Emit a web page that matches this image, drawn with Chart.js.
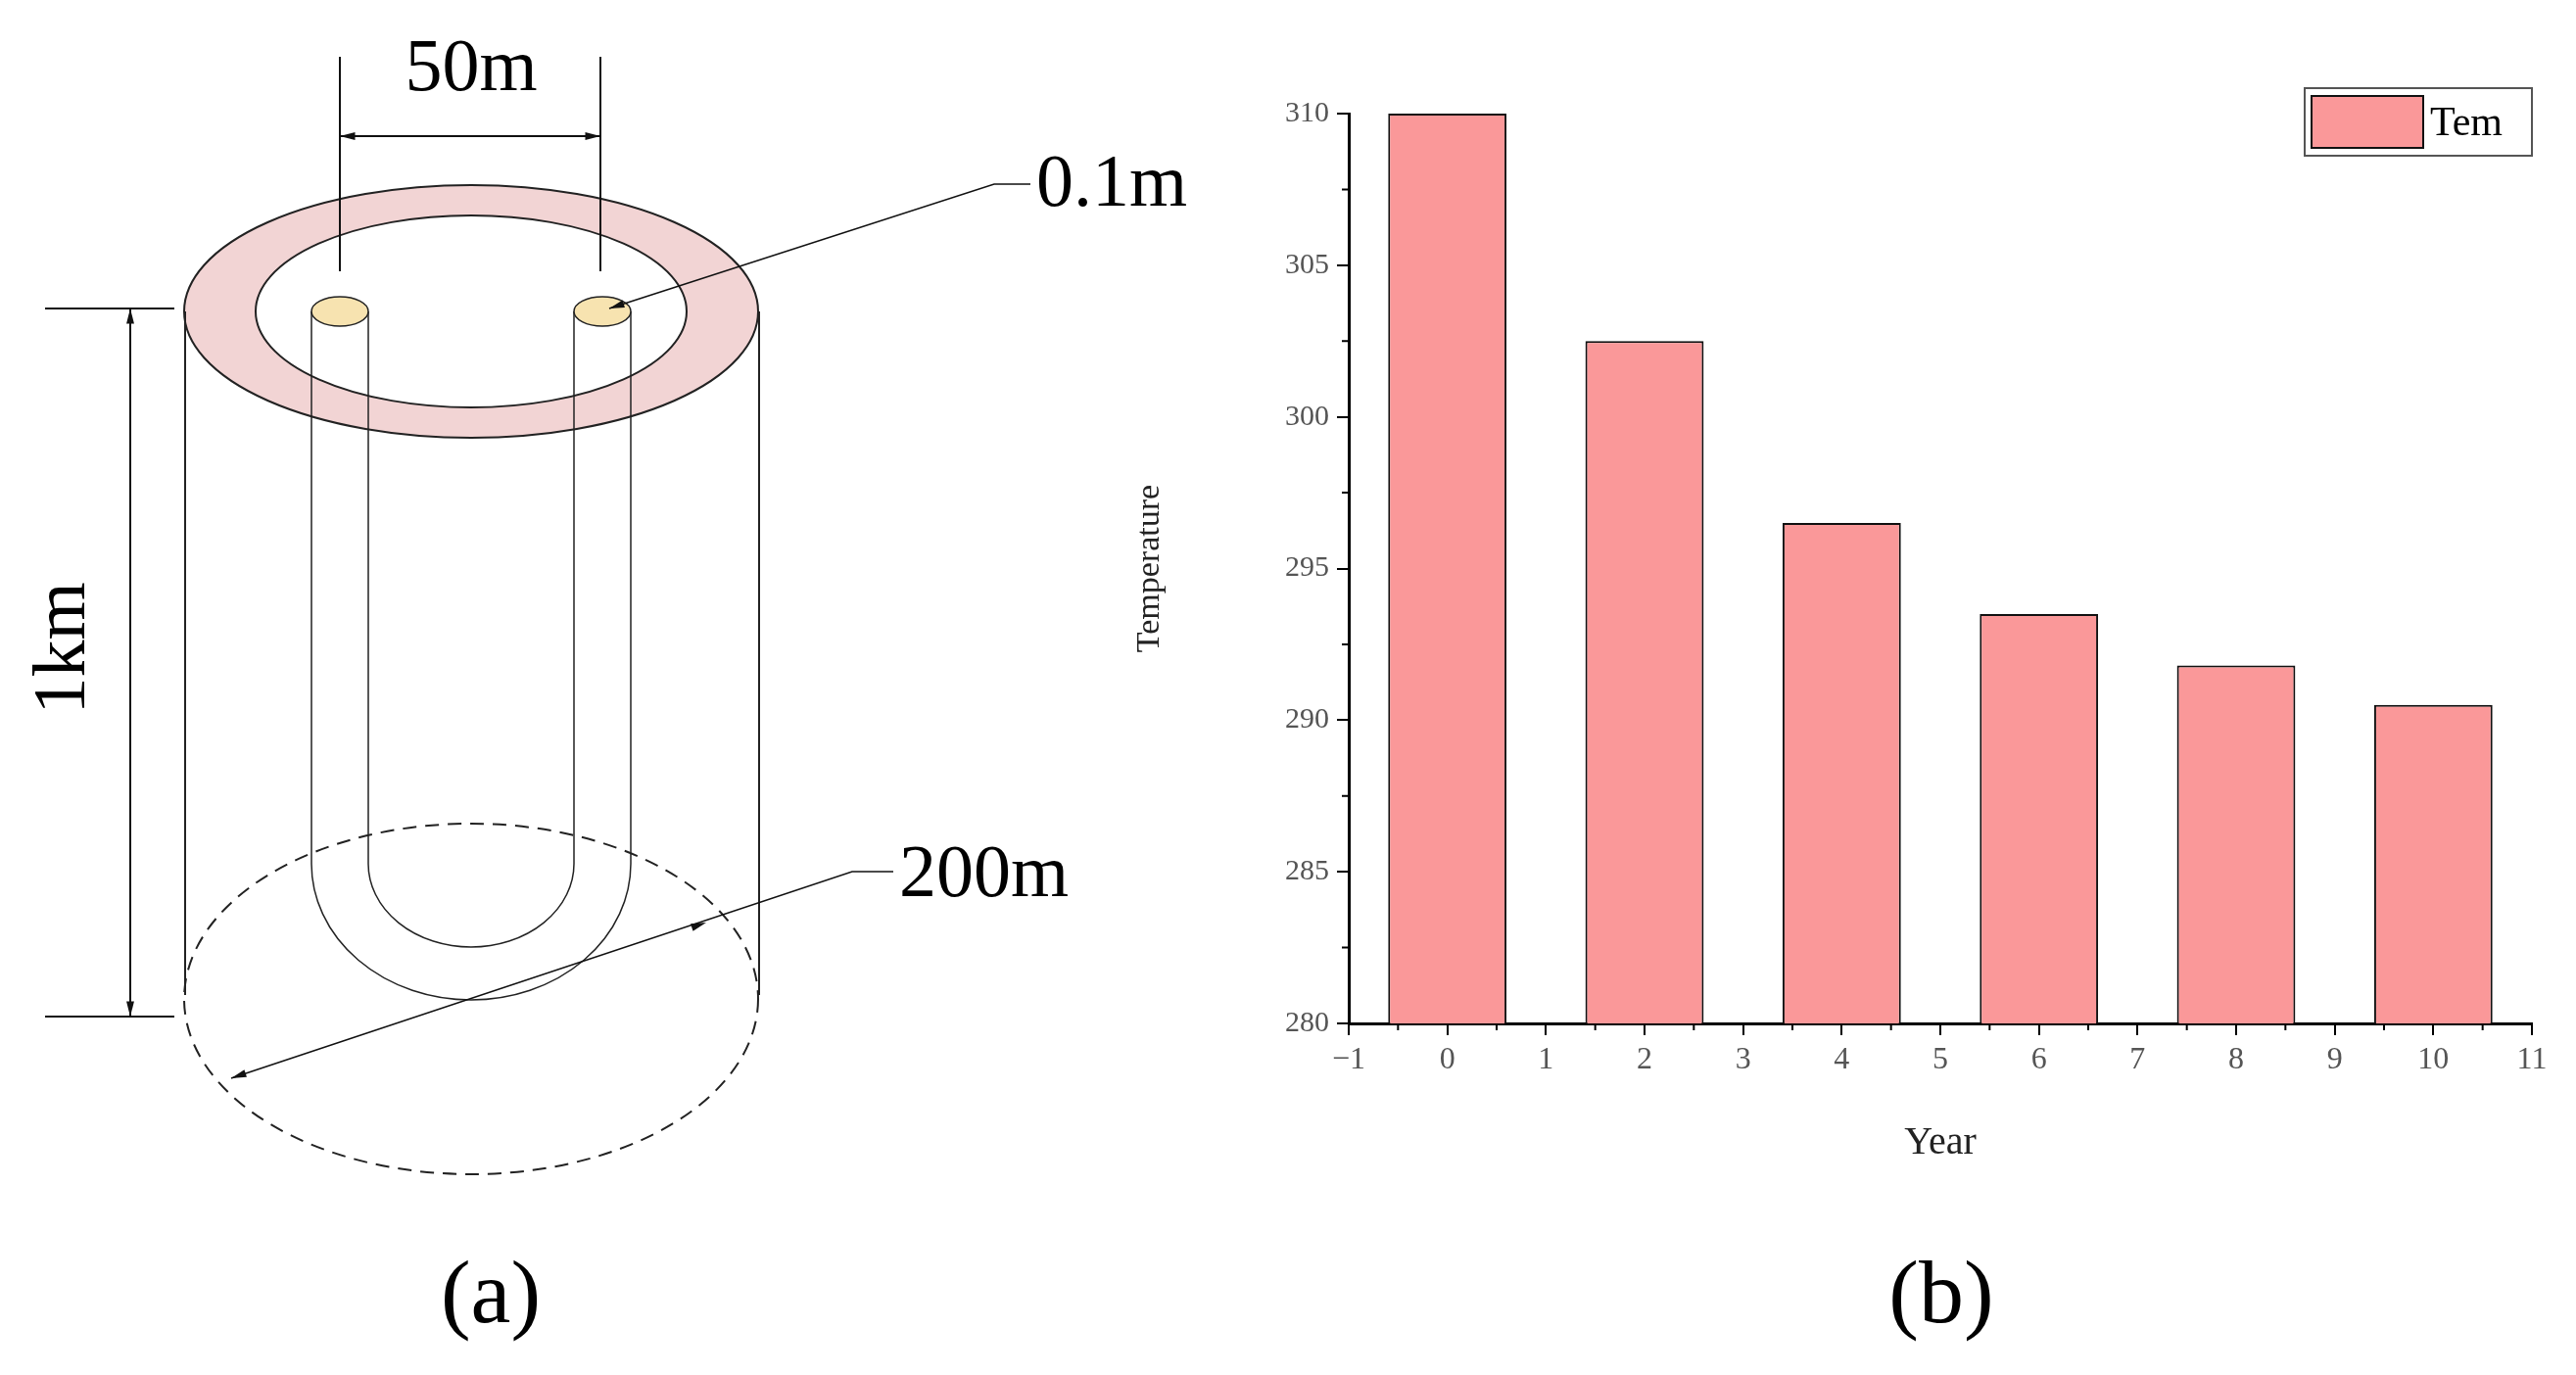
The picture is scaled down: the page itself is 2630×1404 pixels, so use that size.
<!DOCTYPE html>
<html>
<head>
<meta charset="utf-8">
<script src="https://cdn.jsdelivr.net/npm/chart.js@4/dist/chart.umd.min.js"></script>
<style>
  body { margin: 0; background: #fff; }
  #sketch { position: absolute; left: 0; top: 0; }
  #wrap { position: absolute; left: 1150px; top: 0; width: 1480px; height: 1404px; }
</style>
</head>
<body>
<canvas id="sketch" width="2630" height="1404"></canvas>
<div id="wrap"><canvas id="tempChart"></canvas></div>
<script>
// chart data
const years = [0, 2, 4, 6, 8, 10];
const temperatures = [310, 302.5, 296.5, 293.5, 291.8, 290.5];
const seriesName = 'Tem';

const serif = '"Liberation Serif", "DejaVu Serif", serif';

// Schematic (a) on a plain canvas
function drawSchematic() {
    const c = document.getElementById('sketch').getContext('2d');
    c.lineWidth = 2;
    c.strokeStyle = '#222';

    const cx = 481, topY = 318;
    // pink ring
    c.beginPath();
    c.ellipse(cx, topY, 293, 129, 0, 0, Math.PI * 2);
    c.moveTo(cx + 220, topY);
    c.ellipse(cx, topY, 220, 98, 0, 0, Math.PI * 2);
    c.fillStyle = '#f2d4d4';
    c.fill('evenodd');
    c.stroke();

    // cylinder sides
    c.beginPath();
    c.moveTo(189, topY); c.lineTo(189, 1016);
    c.moveTo(775, topY); c.lineTo(775, 1016);
    c.stroke();

    // bottom dashed ellipse
    c.setLineDash([14, 9]);
    c.beginPath();
    c.ellipse(cx, 1020, 293, 179, 0, 0, Math.PI * 2);
    c.stroke();
    c.setLineDash([]);

    // U pipe
    c.lineWidth = 1.5;
    c.beginPath();
    c.moveTo(318, topY); c.lineTo(318, 882);
    c.ellipse(cx, 882, 163, 139, 0, Math.PI, 0, true);
    c.lineTo(644, topY);
    c.moveTo(376, topY); c.lineTo(376, 882);
    c.ellipse(cx, 882, 105, 85, 0, Math.PI, 0, true);
    c.lineTo(586, topY);
    c.stroke();

    // pipe caps
    c.fillStyle = '#f7e3b0';
    [347, 615].forEach(x => {
        c.beginPath();
        c.ellipse(x, topY, 29, 15, 0, 0, Math.PI * 2);
        c.fill(); c.stroke();
    });

    function arrowHead(x, y, ang) {
        c.beginPath();
        c.moveTo(x, y);
        c.lineTo(x - 16 * Math.cos(ang - 0.25), y - 16 * Math.sin(ang - 0.25));
        c.lineTo(x - 16 * Math.cos(ang + 0.25), y - 16 * Math.sin(ang + 0.25));
        c.closePath();
        c.fillStyle = '#111';
        c.fill();
    }

    c.lineWidth = 2;
    c.strokeStyle = '#111';
    // 50m
    c.beginPath();
    c.moveTo(347, 58); c.lineTo(347, 277);
    c.moveTo(613, 58); c.lineTo(613, 277);
    c.moveTo(347, 139); c.lineTo(613, 139);
    c.stroke();
    arrowHead(347, 139, Math.PI);
    arrowHead(613, 139, 0);

    // 1km
    c.beginPath();
    c.moveTo(46, 315); c.lineTo(178, 315);
    c.moveTo(46, 1038); c.lineTo(178, 1038);
    c.moveTo(133, 315); c.lineTo(133, 1038);
    c.stroke();
    arrowHead(133, 315, -Math.PI / 2);
    arrowHead(133, 1038, Math.PI / 2);

    // 0.1m leader
    c.lineWidth = 1.5;
    c.beginPath();
    c.moveTo(1052, 188); c.lineTo(1015, 188); c.lineTo(622, 315);
    c.stroke();
    arrowHead(622, 315, Math.atan2(315 - 188, 622 - 1015));

    // 200m leader
    c.beginPath();
    c.moveTo(912, 890); c.lineTo(870, 890); c.lineTo(236, 1101);
    c.stroke();
    arrowHead(236, 1101, Math.atan2(1101 - 890, 236 - 870));
    arrowHead(721, 942, Math.atan2(890 - 1101, 870 - 236));

    c.fillStyle = '#000';
    c.font = '76px ' + serif;
    c.textAlign = 'center';
    c.textBaseline = 'middle';
    c.fillText('50m', 481, 72);
    c.textAlign = 'left';
    c.fillText('0.1m', 1058, 190);
    c.fillText('200m', 918, 895);
    c.save();
    c.translate(66, 662);
    c.rotate(-Math.PI / 2);
    c.textAlign = 'center';
    c.fillText('1km', 0, 0);
    c.restore();

    c.font = '92px ' + serif;
    c.textAlign = 'center';
    c.fillText('(a)', 501, 1326);
    c.fillText('(b)', 1982, 1326);
}
drawSchematic();

// minor ticks + legend inside the plot, drawn from the scales
const extras = {
    id: 'extras',
    afterDraw(chart) {
        const { ctx, scales: { x, y } } = chart;
        ctx.save();
        ctx.strokeStyle = '#000';
        ctx.lineWidth = 2;
        ctx.beginPath();
        for (let v = 282.5; v < 310; v += 5) {
            const py = y.getPixelForValue(v);
            ctx.moveTo(x.left, py); ctx.lineTo(x.left - 7, py);
        }
        for (let v = -0.5; v < 11; v += 1) {
            const px = x.getPixelForValue(v);
            ctx.moveTo(px, y.bottom); ctx.lineTo(px, y.bottom + 7);
        }
        ctx.stroke();

        // legend box in the top-right corner
        const lx = x.right - 232, ly = y.top - 26, lw = 232, lh = 69;
        ctx.strokeStyle = '#555';
        ctx.strokeRect(lx, ly, lw, lh);
        ctx.fillStyle = '#fa9899';
        ctx.strokeStyle = '#111';
        ctx.fillRect(lx + 7, ly + 8, 114, 53);
        ctx.strokeRect(lx + 7, ly + 8, 114, 53);
        ctx.fillStyle = '#000';
        ctx.font = '42px ' + serif;
        ctx.textBaseline = 'middle';
        ctx.fillText(chart.data.datasets[0].label, lx + 128, ly + lh / 2 + 2);
        ctx.restore();
    }
};

new Chart(document.getElementById('tempChart').getContext('2d'), {
    type: 'bar',
    data: {
        datasets: [{
            label: seriesName,
            data: years.map((yr, i) => ({ x: yr, y: temperatures[i] })),
            backgroundColor: '#fa9899',
            borderColor: '#111',
            borderWidth: 2,
            borderSkipped: 'bottom',
            barPercentage: 1.2,
            categoryPercentage: 1.0
        }]
    },
    options: {
        responsive: true,
        maintainAspectRatio: false,
        animation: false,
        layout: { padding: { left: 0, right: 45, top: 116, bottom: 209 } },
        plugins: {
            tooltip: { enabled: false },
            legend: { display: false }
        },
        scales: {
            x: {
                type: 'linear',
                offset: false,
                min: -1, max: 11,
                afterFit(s) { s.height = 150; },
                border: { color: '#000', width: 3 },
                grid: { offset: false, drawOnChartArea: false, drawTicks: true, tickLength: 12, color: '#000', lineWidth: 2 },
                ticks: { stepSize: 1, color: '#555', font: { family: serif, size: 32 }, padding: 6,
                    callback: v => v < 0 ? '\u2212' + Math.abs(v) : v },
                title: { display: true, text: 'Year', color: '#222', font: { family: serif, size: 40 }, padding: { top: 2 } }
            },
            y: {
                min: 280, max: 310,
                afterFit(s) { s.width = 227; },
                border: { color: '#000', width: 3 },
                grid: { drawOnChartArea: false, drawTicks: true, tickLength: 12, color: '#000', lineWidth: 2 },
                ticks: { stepSize: 5, color: '#555', font: { family: serif, size: 30 }, padding: 8 },
                title: { display: true, text: 'Temperature', color: '#222', font: { family: serif, size: 34 }, padding: { left: 68 } }
            }
        }
    },
    plugins: [extras]
});
</script>
</body>
</html>
